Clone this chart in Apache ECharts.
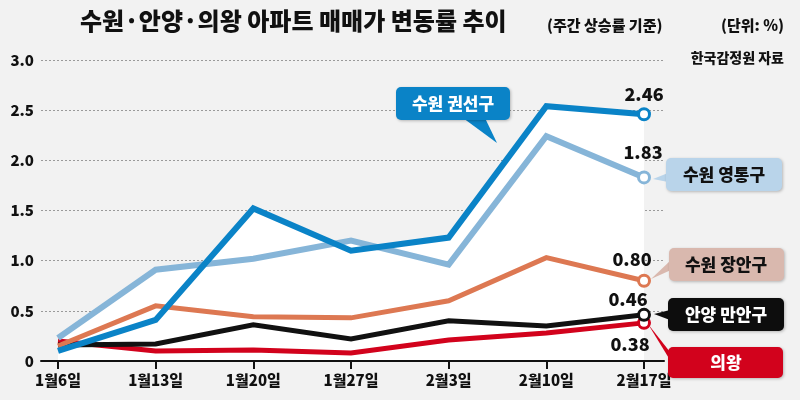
<!DOCTYPE html>
<html><head><meta charset="utf-8">
<script src="https://cdn.jsdelivr.net/npm/echarts@6/dist/echarts.min.js"></script>
<style>html,body{margin:0;padding:0;background:#f2f2f2}#c{width:800px;height:400px}</style>
</head><body><div id="c"></div>
<script>
const categories = ['1월6일','1월13일','1월20일','1월27일','2월3일','2월10일','2월17일'];
const gwonseon = [0.10, 0.41, 1.52, 1.10, 1.23, 2.54, 2.46];
const yeongtong = [0.23, 0.91, 1.02, 1.20, 0.96, 2.24, 1.83];
const jangan = [0.15, 0.55, 0.44, 0.43, 0.60, 1.03, 0.80];
const manan = [0.16, 0.17, 0.36, 0.22, 0.40, 0.35, 0.46];
const uiwang = [0.20, 0.10, 0.11, 0.08, 0.21, 0.28, 0.38];
const yTicks = [0, 0.5, 1.0, 1.5, 2.0, 2.5, 3.0];

const F = '"Noto Sans CJK KR", "Noto Sans", sans-serif';
const W = 900;
const chart = echarts.init(document.getElementById('c'));

function lineSeries(name, vals, color, width, z, off) {
  const last = vals.length - 1;
  return {
    name, type: 'line', xAxisIndex: 1, yAxisIndex: 1, z,
    symbol: 'none', showSymbol: true, silent: true,
    lineStyle: { color, width, join: 'miter' },
    data: vals.map((v, i) => i === last ? {
      value: v, symbol: 'circle', symbolSize: 11,
      itemStyle: { color: '#fff', borderColor: color, borderWidth: 3 },
      label: { show: true, position: 'inside', offset: off, formatter: v.toFixed(2),
        fontFamily: F, fontWeight: W, fontSize: 18, color: '#111', align: 'center', verticalAlign: 'middle' }
    } : v)
  };
}
function areaSeries(vals) {
  return { type: 'line', xAxisIndex: 1, yAxisIndex: 1, z: 1, symbol: 'none', silent: true,
    lineStyle: { width: 0 }, areaStyle: { color: '#ffffff', opacity: 1 }, data: vals };
}

chart.setOption({
  backgroundColor: '#f2f2f2',
  animation: false,
  grid: [
    { left: 41, right: 136, top: 60, bottom: 39 },
    { left: 58, right: 156, top: 60, bottom: 39 }
  ],
  xAxis: [
    { type: 'value', gridIndex: 0, min: 0, max: 1, axisLabel: { show: false }, axisTick: { show: false },
      splitLine: { show: false }, axisLine: { show: true, lineStyle: { color: '#111', width: 2 } }, z: 10 },
    { type: 'category', gridIndex: 1, data: categories, boundaryGap: false,
      axisLine: { show: false },
      axisTick: { show: true, length: 8, lineStyle: { color: '#111', width: 2 } },
      axisLabel: { fontFamily: F, fontWeight: W, fontSize: 15, color: '#111', margin: 12 },
      splitLine: { show: false } }
  ],
  yAxis: [
    { type: 'value', gridIndex: 0, min: 0, max: 3, interval: 0.5,
      axisLine: { show: false }, axisTick: { show: false },
      axisLabel: { fontFamily: F, fontWeight: W, fontSize: 15, color: '#111', margin: 7,
        formatter: v => yTicks.includes(v) ? (v === 0 ? '0' : v.toFixed(1)) : '' },
      splitLine: { show: true, lineStyle: { color: '#9a9a9a', width: 1, type: [2, 2] } } },
    { type: 'value', gridIndex: 1, min: 0, max: 3, show: false, splitLine: { show: false } }
  ],
  series: [
    areaSeries(gwonseon),
    areaSeries(yeongtong),
    lineSeries('의왕', uiwang, '#d2021c', 5, 3, [-14, 21]),
    lineSeries('안양 만안구', manan, '#111111', 5, 4, [-16, -16]),
    lineSeries('수원 장안구', jangan, '#dd7852', 5, 5, [-12, -22]),
    lineSeries('수원 영통구', yeongtong, '#86b5d8', 6, 6, [-1, -25]),
    lineSeries('수원 권선구', gwonseon, '#0a83c7', 6, 7, [0, -20])
  ],
  graphic: [
    { type: 'text', left: 80, top: 9, style: { text: '수원·안양·의왕 아파트 매매가 변동률 추이', fontFamily: F, fontWeight: W, fontSize: 24, fill: '#111' } },
    { type: 'text', left: 547, top: 18, style: { text: '(주간 상승률 기준)', fontFamily: F, fontWeight: W, fontSize: 15, fill: '#111' } },
    { type: 'text', right: 16, top: 18, style: { text: '(단위: %)', fontFamily: F, fontWeight: W, fontSize: 15, fill: '#111' } },
    { type: 'text', right: 16, top: 51, style: { text: '한국감정원 자료', fontFamily: F, fontWeight: W, fontSize: 14, fill: '#111' } },

    { type: 'polygon', z: 20, shape: { points: [[463,118],[485,118],[497,143]] }, style: { fill: '#0a83c7' } },
    { type: 'rect', z: 20, shape: { x: 396, y: 87, width: 114, height: 33, r: 5 }, style: { fill: '#0a83c7', shadowBlur: 3, shadowColor: 'rgba(0,0,0,0.25)', shadowOffsetX: 1, shadowOffsetY: 1 } },
    { type: 'text', z: 21, x: 453, y: 104, style: { text: '수원 권선구', fontFamily: F, fontWeight: W, fontSize: 17, fill: '#fff', align: 'center', verticalAlign: 'middle' } },

    { type: 'polygon', z: 20, shape: { points: [[668,173],[668,182],[653,179]] }, style: { fill: '#b9d4ea' } },
    { type: 'rect', z: 20, shape: { x: 666, y: 158, width: 116, height: 33, r: 5 }, style: { fill: '#b9d4ea', shadowBlur: 3, shadowColor: 'rgba(0,0,0,0.25)', shadowOffsetX: 1, shadowOffsetY: 1 } },
    { type: 'text', z: 21, x: 724, y: 175, style: { text: '수원 영통구', fontFamily: F, fontWeight: W, fontSize: 17, fill: '#111', align: 'center', verticalAlign: 'middle' } },

    { type: 'polygon', z: 20, shape: { points: [[671,260],[671,270],[651,279]] }, style: { fill: '#d9b8ae' } },
    { type: 'rect', z: 20, shape: { x: 669, y: 248, width: 115, height: 33, r: 5 }, style: { fill: '#d9b8ae', shadowBlur: 3, shadowColor: 'rgba(0,0,0,0.25)', shadowOffsetX: 1, shadowOffsetY: 1 } },
    { type: 'text', z: 21, x: 726, y: 265, style: { text: '수원 장안구', fontFamily: F, fontWeight: W, fontSize: 17, fill: '#111', align: 'center', verticalAlign: 'middle' } },

    { type: 'polygon', z: 20, shape: { points: [[670,310],[670,320],[654,314]] }, style: { fill: '#0d0d0d' } },
    { type: 'rect', z: 20, shape: { x: 668, y: 298, width: 116, height: 33, r: 5 }, style: { fill: '#0d0d0d', shadowBlur: 3, shadowColor: 'rgba(0,0,0,0.25)', shadowOffsetX: 1, shadowOffsetY: 1 } },
    { type: 'text', z: 21, x: 726, y: 315, style: { text: '안양 만안구', fontFamily: F, fontWeight: W, fontSize: 17, fill: '#fff', align: 'center', verticalAlign: 'middle' } },

    { type: 'polygon', z: 20, shape: { points: [[648,324],[670,352],[670,360]] }, style: { fill: '#d2021c' } },
    { type: 'rect', z: 20, shape: { x: 668, y: 347, width: 115, height: 31, r: 5 }, style: { fill: '#d2021c', shadowBlur: 3, shadowColor: 'rgba(0,0,0,0.25)', shadowOffsetX: 1, shadowOffsetY: 1 } },
    { type: 'text', z: 21, x: 726, y: 363, style: { text: '의왕', fontFamily: F, fontWeight: W, fontSize: 17, fill: '#fff', align: 'center', verticalAlign: 'middle' } }
  ]
});
</script></body></html>
